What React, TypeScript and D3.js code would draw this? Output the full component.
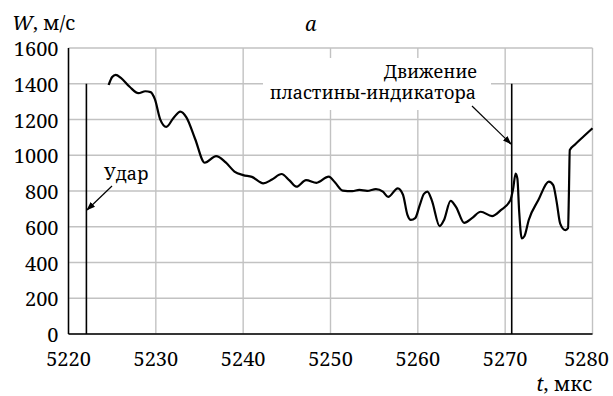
import React, { useEffect, useRef } from "react";
import * as d3 from "d3";

// time, µs
const times = [
  5224.6, 5225.0, 5225.4, 5226.0, 5227.0, 5228.0, 5228.8, 5229.4, 5229.9, 5230.5,
  5231.2, 5232.0, 5232.8, 5233.5, 5234.5, 5235.6, 5236.9, 5238.0, 5239.0, 5240.0,
  5241.0, 5242.3, 5243.3, 5244.4, 5245.3, 5246.1, 5247.2, 5248.4, 5249.8, 5250.5,
  5251.4, 5252.5, 5253.3, 5254.2, 5255.2, 5256.0, 5256.6, 5257.7, 5258.3, 5258.8,
  5259.2, 5259.7, 5260.2, 5260.7, 5261.1, 5261.6, 5262.5, 5263.0, 5263.75, 5264.4,
  5265.3, 5266.2, 5267.2, 5268.5, 5269.5, 5270.6, 5270.9, 5271.2, 5271.4, 5271.6,
  5271.9, 5272.2, 5272.7, 5273.8, 5275.0, 5275.5, 5275.9, 5276.3, 5276.9, 5277.2,
  5277.3, 5277.4, 5278.0, 5279.0, 5280.0,
];
// velocity W, m/s
const velocity = [
  1393, 1438, 1450, 1433, 1383, 1347, 1358, 1353, 1312, 1201,
  1159, 1207, 1244, 1212, 1091, 958, 995, 960, 909, 889,
  879, 843, 864, 895, 859, 824, 861, 846, 880, 849,
  802, 799, 806, 801, 811, 797, 767, 815, 779, 668,
  638, 648, 718, 784, 796, 748, 604, 638, 745, 708,
  622, 648, 684, 660, 693, 749, 809, 898, 869, 688,
  535, 547, 638, 749, 852, 833, 738, 618, 581, 592,
  789, 1029, 1060, 1106, 1151,
];

const xTicks = [5220, 5230, 5240, 5250, 5260, 5270, 5280];
const yTicks = [0, 200, 400, 600, 800, 1000, 1200, 1400, 1600];

// marker lines: impact and indicator plate motion
const impactT = 5222.05;
const plateT = 5270.75;
const markerTop = 1400;

const FONT = "Noto Serif";

const App = () => {
  const svgRef = useRef(null);

  useEffect(() => {
    drawChart();
  }, []);

  const drawChart = () => {
    const svg = d3.select(svgRef.current);
    svg.selectAll("*").remove();

    const margin = { top: 48, right: 20.5, bottom: 62, left: 68.5 };
    const width = 613 - margin.left - margin.right;
    const height = 396 - margin.top - margin.bottom;

    const x = d3.scaleLinear().domain([5220, 5280]).range([0, width]);
    const y = d3.scaleLinear().domain([0, 1600]).range([height, 0]);

    const g = svg
      .append("g")
      .attr("transform", `translate(${margin.left},${margin.top})`);

    // grid
    g.selectAll(".vgrid")
      .data(xTicks)
      .enter()
      .append("line")
      .attr("x1", (d) => x(d))
      .attr("x2", (d) => x(d))
      .attr("y1", 0)
      .attr("y2", height)
      .attr("stroke", "#c2c2c2")
      .attr("stroke-width", 1.4);

    g.selectAll(".hgrid")
      .data(yTicks)
      .enter()
      .append("line")
      .attr("x1", 0)
      .attr("x2", width)
      .attr("y1", (d) => y(d))
      .attr("y2", (d) => y(d))
      .attr("stroke", "#c2c2c2")
      .attr("stroke-width", 1.4);

    // white box behind the annotation text
    svg
      .append("rect")
      .attr("x", 263)
      .attr("y", 58)
      .attr("width", 228)
      .attr("height", 52)
      .attr("fill", "white");

    // axes (left and bottom black)
    g.append("line")
      .attr("x1", 0)
      .attr("x2", 0)
      .attr("y1", 0)
      .attr("y2", height)
      .attr("stroke", "black")
      .attr("stroke-width", 1.5);
    g.append("line")
      .attr("x1", 0)
      .attr("x2", width)
      .attr("y1", height)
      .attr("y2", height)
      .attr("stroke", "black")
      .attr("stroke-width", 1.5);

    // tick labels
    g.selectAll(".ylab")
      .data(yTicks)
      .enter()
      .append("text")
      .attr("x", -10)
      .attr("y", (d) => y(d))
      .attr("dy", "0.4em")
      .attr("text-anchor", "end")
      .attr("font-family", FONT)
      .attr("font-size", 20)
      .text((d) => d);

    g.selectAll(".xlab")
      .data(xTicks)
      .enter()
      .append("text")
      .attr("x", (d) => x(d))
      .attr("dx", (d, i) => (i === xTicks.length - 1 ? -6 : 0))
      .attr("y", height + 31.5)
      .attr("text-anchor", "middle")
      .attr("font-family", FONT)
      .attr("font-size", 20)
      .text((d) => d);

    // marker lines
    [impactT, plateT].forEach((t) => {
      g.append("line")
        .attr("x1", x(t))
        .attr("x2", x(t))
        .attr("y1", y(0))
        .attr("y2", y(markerTop))
        .attr("stroke", "black")
        .attr("stroke-width", 1.6);
    });

    // curve
    const line = d3
      .line()
      .x((d) => x(d[0]))
      .y((d) => y(d[1]))
      .curve(d3.curveMonotoneX);

    g.append("path")
      .datum(times.map((t, i) => [t, velocity[i]]))
      .attr("d", line)
      .attr("fill", "none")
      .attr("stroke", "black")
      .attr("stroke-width", 2.2)
      .attr("stroke-linejoin", "round");

    // arrows
    const defs = svg.append("defs");
    defs
      .append("marker")
      .attr("id", "arrow")
      .attr("viewBox", "0 0 10 10")
      .attr("refX", 9)
      .attr("refY", 5)
      .attr("markerWidth", 9)
      .attr("markerHeight", 9)
      .attr("markerUnits", "userSpaceOnUse")
      .attr("orient", "auto")
      .append("path")
      .attr("d", "M0,1.5 L10,5 L0,8.5 Z")
      .attr("fill", "black");

    svg
      .append("line")
      .attr("x1", 112)
      .attr("y1", 186)
      .attr("x2", 87)
      .attr("y2", 210)
      .attr("stroke", "black")
      .attr("stroke-width", 1.2)
      .attr("marker-end", "url(#arrow)");

    svg
      .append("line")
      .attr("x1", 472)
      .attr("y1", 106)
      .attr("x2", 511)
      .attr("y2", 144)
      .attr("stroke", "black")
      .attr("stroke-width", 1.2)
      .attr("marker-end", "url(#arrow)");

    // annotation text
    const txt = (xx, yy, s, anchor = "start") =>
      svg
        .append("text")
        .attr("x", xx)
        .attr("y", yy)
        .attr("text-anchor", anchor)
        .attr("font-family", FONT)
        .attr("font-size", 18)
        .text(s);

    txt(104, 180, "Удар");
    txt(477, 78, "Движение", "end");
    txt(476, 99, "пластины-индикатора", "end");

    // axis titles
    const wt = svg
      .append("text")
      .attr("x", 12)
      .attr("y", 30)
      .attr("font-family", FONT)
      .attr("font-size", 20);
    wt.append("tspan").attr("font-style", "italic").text("W");
    wt.append("tspan").text(", м/с");

    svg
      .append("text")
      .attr("x", 305)
      .attr("y", 31)
      .attr("font-family", FONT)
      .attr("font-style", "italic")
      .attr("font-size", 20)
      .text("a");

    const tt = svg
      .append("text")
      .attr("x", 592)
      .attr("y", 391)
      .attr("text-anchor", "end")
      .attr("font-family", FONT)
      .attr("font-size", 20);
    tt.append("tspan").attr("font-style", "italic").text("t");
    tt.append("tspan").text(", мкс");
  };

  return (
    <div style={{ position: "absolute", left: 0, top: 0 }}>
      <svg
        ref={svgRef}
        width={613}
        height={396}
        fontFamily="Noto Serif"
        style={{ display: "block", background: "white", fontFamily: "Noto Serif" }}
      ></svg>
    </div>
  );
};

export default App;
